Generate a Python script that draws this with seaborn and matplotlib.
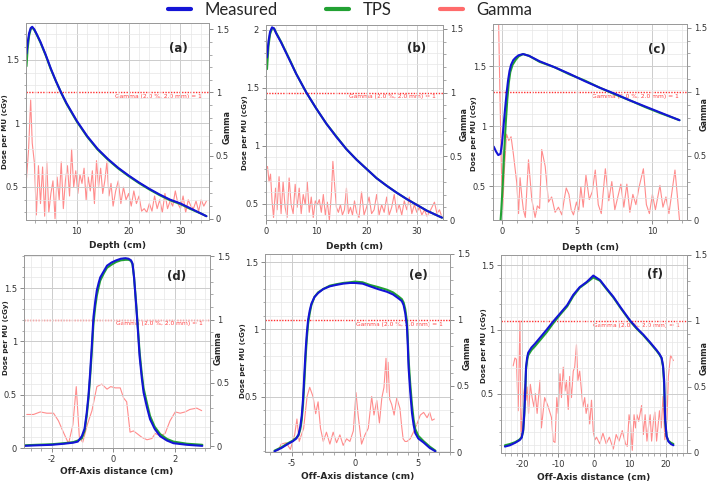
import seaborn as sns
import matplotlib.pyplot as plt
from matplotlib.lines import Line2D
from matplotlib.ticker import MultipleLocator, AutoMinorLocator, FuncFormatter

## (a) depth dose, first field
a_depth = [0.3, 0.5, 0.8, 1.1, 1.4, 1.8, 2.3, 3, 4, 5, 6, 7, 8, 9, 10, 11, 12, 14, 16, 18,
           20, 22, 24, 26, 28, 30, 32, 34, 35]
a_meas = [1.55, 1.63, 1.71, 1.75, 1.76, 1.74, 1.70, 1.64, 1.54, 1.43, 1.33, 1.24, 1.16, 1.09, 1.02,
          0.96, 0.90, 0.80, 0.72, 0.65, 0.59, 0.535, 0.485, 0.44, 0.40, 0.37, 0.33, 0.29, 0.27]
a_tps = [1.45, 1.58, 1.69, 1.74, 1.755, 1.735, 1.695, 1.635, 1.535, 1.425, 1.33, 1.24, 1.155, 1.085, 1.015,
         0.955, 0.895, 0.795, 0.715, 0.645, 0.585, 0.53, 0.48, 0.435, 0.395, 0.365, 0.325, 0.29, 0.27]
a_gx = [0.3, 0.7, 1.1, 1.4, 1.8, 2.2, 2.6, 3.0, 3.4,
        3.8, 4.2, 4.6, 5.0, 5.4, 5.8, 6.2, 6.6, 7.0, 7.4, 7.8, 8.2, 8.6, 9.0, 9.4, 9.8, 10.2, 10.6,
        11.0, 11.4, 11.8, 12.2, 12.6, 13.0, 13.4, 13.8, 14.2, 14.6, 15.0, 15.4, 15.8, 16.2, 16.6, 17.0,
        17.5, 18.0, 18.5, 19.0, 19.5, 20.0, 20.5, 21.0, 21.5, 22.0, 22.5, 23.0, 23.5, 24.0, 24.5, 25.0,
        25.5, 26.0, 26.5, 27.0, 27.5, 28.0, 28.5, 29.0, 29.5, 30.0, 30.5, 31.0, 31.5, 32.0, 32.5, 33.0,
        33.5, 34.0, 34.5, 35.0]
a_gamma = [0.32, 0.55, 0.94, 0.60, 0.45, 0.03, 0.42, 0.12, 0.41,
           0.02, 0.45, 0.05, 0.20, 0.30, 0.00, 0.33, 0.15, 0.45, 0.08, 0.30, 0.42, 0.18, 0.55, 0.25, 0.38,
           0.20, 0.35, 0.28, 0.40, 0.15, 0.33, 0.22, 0.38, 0.12, 0.46, 0.25, 0.40, 0.20, 0.30, 0.45, 0.18,
           0.28, 0.10,
           0.22, 0.30, 0.12, 0.25, 0.15, 0.20, 0.10, 0.22, 0.12, 0.18, 0.06, 0.08, 0.05, 0.12, 0.06, 0.18,
           0.08, 0.15, 0.05, 0.20, 0.08, 0.14, 0.10, 0.22, 0.12, 0.08, 0.18, 0.05, 0.15, 0.10, 0.08, 0.14,
           0.06, 0.15, 0.10, 0.14]

## (b) depth dose, second field
b_depth = [0.2, 0.5, 0.8, 1.2, 1.6, 2, 3, 4, 5, 6, 8, 10, 12, 14, 16, 18, 20, 22, 24, 26, 28, 30, 32, 35]
b_meas = [1.76, 1.90, 1.98, 2.02, 2.01, 1.97, 1.89, 1.80, 1.71, 1.62, 1.46, 1.32, 1.19, 1.075, 0.97,
          0.88, 0.80, 0.72, 0.655, 0.595, 0.54, 0.49, 0.44, 0.38]
b_tps = [1.66, 1.86, 1.96, 2.01, 2.01, 1.975, 1.895, 1.805, 1.715, 1.62, 1.46, 1.32, 1.19, 1.08, 0.97,
         0.88, 0.80, 0.72, 0.655, 0.595, 0.54, 0.49, 0.44, 0.38]
b_gx = [0.3, 0.6, 0.9, 1.2, 1.5, 1.9, 2.2, 2.6, 3.0, 3.4, 3.8, 4.2, 4.6, 5.0, 5.4, 5.8, 6.2, 6.6, 7.0,
        7.4, 7.8, 8.2, 8.6, 9.0, 9.4, 9.8, 10.2, 10.6, 11.0, 11.4, 11.8, 12.2, 12.6, 13.0, 13.3, 13.6,
        14.0, 14.4, 14.8, 15.2, 15.6, 16.0, 16.4, 16.8, 17.2, 17.6, 18.0, 18.5, 19.0, 19.5, 20.0, 20.5,
        21.0, 21.5, 22.0, 22.5, 23.0, 23.5, 24.0, 24.5, 25.0, 25.5, 26.0, 26.5, 27.0, 27.5, 28.0, 28.5,
        29.0, 29.5, 30.0, 30.5, 31.0, 31.5, 32.0, 32.5, 33.0, 33.5, 34.0, 34.5, 35.0]
b_gamma = [0.42, 0.30, 0.36, 0.15, 0.02, 0.25, 0.08, 0.34, 0.05, 0.30, 0.10, 0.02, 0.33, 0.12, 0.05,
           0.28, 0.10, 0.25, 0.05, 0.20, 0.12, 0.30, 0.06, 0.18, 0.02, 0.15, 0.12, 0.16, 0.06, 0.20,
           0.04, 0.14, 0.00, 0.20, 0.46, 0.30, 0.10, 0.06, 0.12, 0.04, 0.08, 0.25, 0.05, 0.10, 0.04,
           0.15, 0.06, 0.02, 0.22, 0.04, 0.10, 0.18, 0.05, 0.08, 0.20, 0.04, 0.12, 0.06, 0.18, 0.04,
           0.10, 0.20, 0.06, 0.12, 0.04, 0.15, 0.08, 0.18, 0.05, 0.12, 0.06, 0.10, 0.04, 0.08, 0.03,
           0.06, 0.10, 0.14, 0.05, 0.08, 0.02]

## (c) depth dose, third field
c_depth = [-0.55, -0.4, -0.25, -0.1, 0.0, 0.1, 0.2, 0.3, 0.4, 0.5, 0.6, 0.75, 0.9, 1.1, 1.4, 1.8, 2.5,
           3.5, 4.5, 5.5, 6.5, 7.5, 8.5, 9.5, 10.5, 11.8]
c_meas = [0.83, 0.79, 0.76, 0.77, 0.86, 1.00, 1.14, 1.27, 1.38, 1.46, 1.51, 1.55, 1.57, 1.59, 1.60,
          1.585, 1.54, 1.49, 1.435, 1.375, 1.32, 1.27, 1.215, 1.165, 1.115, 1.05]
c_tps_depth = [-0.15, -0.05, 0.05, 0.15, 0.25, 0.35, 0.45, 0.55, 0.7, 0.9, 1.1, 1.4, 1.8, 2.5, 3.5,
               4.5, 5.5, 6.5, 7.5, 8.5, 9.5, 10.5, 11.8]
c_tps = [0.12, 0.30, 0.52, 0.80, 1.03, 1.22, 1.36, 1.45, 1.51, 1.55, 1.58, 1.60, 1.585, 1.535, 1.49,
         1.43, 1.38, 1.32, 1.265, 1.215, 1.16, 1.11, 1.05]
c_gx = [-0.25, -0.15, -0.05, 0.03, 0.15, 0.3, 0.45, 0.6, 0.75, 0.98, 1.1, 1.2, 1.32, 1.42, 1.55, 1.76,
        1.98, 2.2, 2.35, 2.5, 2.64, 2.87, 3.09, 3.3, 3.53, 3.75, 3.98, 4.12, 4.27, 4.45, 4.6, 4.75,
        4.95, 5.1, 5.24, 5.4, 5.58, 5.8, 6.0, 6.2, 6.4, 6.6, 6.87, 7.1, 7.3, 7.5, 7.7, 7.9, 8.1, 8.3,
        8.5, 8.7, 8.9, 9.1, 9.4, 9.6, 9.8, 10.0, 10.2, 10.5, 10.7, 10.9, 11.1, 11.3, 11.5, 11.65, 11.8]
c_gamma = [1.70, 1.05, 0.45, 0.04, 0.38, 0.67, 0.62, 0.65, 0.52, 0.29, 0.05, 0.33, 0.18, 0.08, 0.02,
           0.47, 0.16, 0.02, 0.11, 0.09, 0.55, 0.42, 0.14, 0.18, 0.06, 0.10, 0.04, 0.15, 0.25, 0.20,
           0.08, 0.04, 0.14, 0.07, 0.26, 0.10, 0.35, 0.16, 0.22, 0.39, 0.12, 0.05, 0.40, 0.15, 0.30,
           0.08, 0.18, 0.28, 0.10, 0.28, 0.06, 0.20, 0.12, 0.25, 0.40, 0.12, 0.05, 0.20, 0.08, 0.27,
           0.10, 0.18, 0.05, 0.22, 0.39, 0.20, 0.00]

## (d) profile, small field
d_off = [-2.9, -2.5, -2.0, -1.6, -1.3, -1.15, -1.02, -0.93, -0.86, -0.80, -0.75, -0.69, -0.64, -0.58,
         -0.53, -0.47, -0.42, -0.3, -0.2, -0.05, 0.1, 0.25, 0.4, 0.5, 0.58, 0.63, 0.68, 0.75, 0.81,
         0.86, 0.93, 0.99, 1.1, 1.2, 1.35, 1.53, 1.75, 1.96, 2.4, 2.9]
d_meas = [0.02, 0.025, 0.03, 0.04, 0.05, 0.06, 0.11, 0.18, 0.33, 0.50, 0.70, 0.98, 1.23, 1.38, 1.48,
          1.55, 1.60, 1.66, 1.71, 1.74, 1.76, 1.775, 1.78, 1.775, 1.76, 1.73, 1.60, 1.33, 1.08, 0.86,
          0.66, 0.52, 0.38, 0.27, 0.18, 0.11, 0.07, 0.045, 0.03, 0.02]
d_tps = [0.025, 0.03, 0.035, 0.045, 0.055, 0.07, 0.09, 0.16, 0.30, 0.47, 0.66, 0.92, 1.17, 1.33, 1.43,
         1.51, 1.57, 1.64, 1.69, 1.72, 1.745, 1.76, 1.765, 1.765, 1.755, 1.72, 1.60, 1.35, 1.11, 0.90,
         0.70, 0.56, 0.42, 0.30, 0.20, 0.13, 0.085, 0.06, 0.04, 0.03]
d_gx = [-2.81, -2.59, -2.37, -2.16, -1.94, -1.78, -1.62, -1.45, -1.31, -1.2, -1.1, -0.99, -0.84, -0.69,
        -0.53, -0.37, -0.2, -0.08, 0.07, 0.23, 0.34, 0.44, 0.55, 0.66, 0.77, 0.93, 1.1, 1.26, 1.37,
        1.53, 1.69, 1.85, 2.02, 2.18, 2.34, 2.5, 2.72, 2.88]
d_gamma = [0.25, 0.25, 0.27, 0.26, 0.26, 0.20, 0.11, 0.02, 0.17, 0.47, 0.07, 0.03, 0.17, 0.28, 0.47,
           0.49, 0.45, 0.47, 0.46, 0.46, 0.38, 0.35, 0.11, 0.12, 0.10, 0.07, 0.05, 0.06, 0.10, 0.08,
           0.10, 0.20, 0.27, 0.26, 0.27, 0.29, 0.30, 0.28]

## (e) profile, medium field
e_off = [-6.35, -5.8, -5.29, -4.9, -4.63, -4.45, -4.31, -4.2, -4.1, -4.0, -3.89, -3.8, -3.7, -3.57,
         -3.44, -3.2, -2.91, -2.5, -1.98, -1.5, -0.93, -0.4, 0.0, 0.6, 1.19, 1.8, 2.51, 3.0, 3.44, 3.7,
         3.84, 3.97, 4.1, 4.17, 4.23, 4.36, 4.5, 4.63, 4.76, 5.0, 5.42, 5.9, 6.35]
e_meas = [0.095, 0.12, 0.15, 0.17, 0.19, 0.22, 0.28, 0.36, 0.48, 0.66, 0.85, 0.97, 1.07, 1.14, 1.19,
          1.24, 1.27, 1.30, 1.32, 1.33, 1.34, 1.345, 1.345, 1.34, 1.32, 1.30, 1.28, 1.26, 1.23, 1.21,
          1.18, 1.12, 1.02, 0.88, 0.72, 0.54, 0.38, 0.29, 0.23, 0.19, 0.16, 0.12, 0.095]
e_tps = [0.10, 0.125, 0.155, 0.175, 0.195, 0.215, 0.26, 0.33, 0.44, 0.60, 0.80, 0.93, 1.04, 1.12, 1.18,
         1.24, 1.275, 1.30, 1.325, 1.335, 1.345, 1.35, 1.355, 1.35, 1.33, 1.315, 1.295, 1.275, 1.245,
         1.225, 1.20, 1.15, 1.06, 0.93, 0.78, 0.60, 0.44, 0.33, 0.26, 0.21, 0.17, 0.13, 0.10]
e_gx = [-6.08, -5.82, -5.42, -5.1, -4.76, -4.58, -4.4, -4.05, -3.78, -3.57, -3.31, -3.1, -2.91, -2.72,
        -2.5, -2.25, -1.98, -1.72, -1.45, -1.19, -0.93, -0.66, -0.4, -0.13, 0.08, 0.26, 0.52, 0.79,
        1.05, 1.32, 1.5, 1.72, 1.93, 2.12, 2.29, 2.45, 2.53, 2.61, 2.74, 2.9, 3.09, 3.3, 3.55, 3.68,
        3.8, 3.95, 4.1, 4.36, 4.76, 5.16, 5.42, 5.69, 5.9, 6.08, 6.27]
e_gamma = [0.01, 0.06, 0.07, 0.02, 0.13, 0.25, 0.08, 0.18, 0.42, 0.49, 0.42, 0.29, 0.38, 0.18, 0.08,
           0.15, 0.06, 0.15, 0.07, 0.13, 0.05, 0.10, 0.08, 0.16, 0.45, 0.27, 0.06, 0.13, 0.18, 0.42,
           0.28, 0.39, 0.22, 0.41, 0.49, 0.71, 0.45, 0.68, 0.40, 0.36, 0.28, 0.41, 0.33, 0.20, 0.10,
           0.08, 0.08, 0.10, 0.18, 0.28, 0.30, 0.26, 0.30, 0.24, 0.25]

## (f) profile, large field
f_off = [-24.9, -23.5, -22.0, -20.8, -20.2, -19.8, -19.5, -19.2, -19.0, -18.7, -18.4, -17.5, -16.5,
         -15.0, -13.2, -11.5, -9.5, -7.5, -5.8, -4.0, -2.05, -0.2, 1.68, 3.5, 5.4, 7.5, 10.1, 12.0, 13.8,
         15.7, 17.5, 18.3, 18.9, 19.3, 19.6, 19.9, 20.3, 20.8, 21.5, 22.2]
f_meas = [0.09, 0.10, 0.12, 0.14, 0.16, 0.22, 0.35, 0.55, 0.71, 0.78, 0.82, 0.86, 0.89, 0.94, 1.0,
          1.06, 1.125, 1.19, 1.27, 1.33, 1.37, 1.42, 1.385, 1.32, 1.255, 1.17, 1.07, 1.01, 0.96, 0.90,
          0.84, 0.81, 0.78, 0.72, 0.61, 0.30, 0.17, 0.13, 0.11, 0.10]
f_tps = [0.10, 0.11, 0.125, 0.145, 0.165, 0.21, 0.33, 0.52, 0.69, 0.76, 0.80, 0.84, 0.87, 0.92, 0.98,
         1.045, 1.115, 1.18, 1.26, 1.325, 1.365, 1.405, 1.38, 1.315, 1.25, 1.165, 1.065, 1.005, 0.955,
         0.895, 0.835, 0.805, 0.775, 0.71, 0.58, 0.28, 0.17, 0.135, 0.12, 0.11]
f_gx = [-22.6, -22.1, -21.7, -21.2, -20.7, -20.4, -19.9, -19.3, -19.0, -18.7, -18.3, -17.8, -17.3,
        -16.8, -16.4, -15.9, -15.1, -14.7, -13.8, -12.8, -11.9, -11.4, -10.9, -10.4, -10.0, -9.5, -9.1,
        -8.6, -8.1, -7.7, -7.2, -6.8, -6.3, -5.8, -5.4, -4.9, -4.5, -4.0, -3.5, -3.1, -2.6, -2.2, -1.7,
        -1.2, -0.7, -0.2, 0.3, 0.7, 1.6, 2.5, 3.4, 4.3, 5.4, 6.2, 7.0, 7.9, 8.8, 9.3, 9.8, 10.2, 10.7,
        11.2, 11.6, 12.0, 12.5, 13.3, 13.8, 14.3, 14.8, 15.2, 15.7, 16.1, 16.6, 17.0, 17.5, 18.3, 18.8,
        19.3, 19.8, 20.4, 20.8, 21.4, 22.2]
f_gamma = [0.66, 0.72, 0.71, 0.32, 1.00, 0.11, 0.40, 0.52, 0.40, 0.50, 0.30, 0.52, 0.42, 0.35, 0.45,
           0.30, 0.55, 0.19, 0.42, 0.35, 0.27, 0.09, 0.08, 0.42, 0.30, 0.60, 0.42, 0.65, 0.47, 0.55,
           0.33, 0.58, 0.42, 0.62, 0.65, 0.82, 0.55, 0.62, 0.47, 0.35, 0.42, 0.30, 0.37, 0.22, 0.40,
           0.16, 0.10, 0.12, 0.07, 0.15, 0.07, 0.12, 0.03, 0.14, 0.09, 0.17, 0.07, 0.05, 0.29, 0.22,
           0.02, 0.29, 0.19, 0.29, 0.24, 0.36, 0.14, 0.29, 0.09, 0.19, 0.29, 0.09, 0.24, 0.31, 0.09,
           0.32, 0.19, 0.43, 0.10, 0.25, 0.58, 0.74, 0.70]

sns.set_style("white")
plt.rcParams['font.family'] = ['DejaVu Sans']

BLUE = '#1414d6'
GREEN = '#22a133'
RED = '#ff8c8c'
W, H = 709, 483

fig = plt.figure(figsize=(7.09, 4.83), dpi=100)
fmt = FuncFormatter(lambda v, _: f"{v:g}")


def px_rect(l, r, t, b):
    return [l / W, 1 - b / H, (r - l) / W, (b - t) / H]


def panel(rect, meas, tps, gam, xlim, ylim, glim, xmaj, xsub, letter, lpos, xlabel, xly, ylpos, glpos):
    ax = fig.add_axes(rect)
    ax2 = ax.twinx()
    ax.set_zorder(ax2.get_zorder() + 1)
    ax.patch.set_visible(False)

    # gamma index on the right axis
    sns.lineplot(x=gam[0], y=gam[1], ax=ax2, color=RED, linewidth=0.8, sort=False, estimator=None)
    ax2.axhline(1, color='#ff3030', linestyle=(0, (1, 1)), linewidth=1.0)
    ax2.text(xlim[1] - 0.04 * (xlim[1] - xlim[0]), 0.985, 'Gamma (2.0 %, 2.0 mm) = 1',
             ha='right', va='top', fontsize=4.3, color='#ff4040')
    ax2.set_ylim(glim)
    ax2.yaxis.set_major_locator(MultipleLocator(0.5))
    ax2.yaxis.set_minor_locator(MultipleLocator(0.1))
    ax2.yaxis.set_major_formatter(fmt)
    ax2.set_ylabel('Gamma', fontsize=5.8, fontweight='bold')
    ax2.yaxis.set_label_coords(*glpos)

    # dose curves
    sns.lineplot(x=tps[0], y=tps[1], ax=ax, color=GREEN, linewidth=1.5, sort=False, estimator=None)
    sns.lineplot(x=meas[0], y=meas[1], ax=ax, color=BLUE, linewidth=1.5, sort=False, estimator=None)
    ax.set_xlim(xlim)
    ax.set_ylim(ylim)
    ax.xaxis.set_major_locator(MultipleLocator(xmaj))
    ax.xaxis.set_minor_locator(AutoMinorLocator(xsub))
    ax.yaxis.set_major_locator(MultipleLocator(0.5))
    ax.yaxis.set_minor_locator(MultipleLocator(0.1))
    ax.xaxis.set_major_formatter(fmt)
    ax.yaxis.set_major_formatter(fmt)
    ax.grid(which='major', color='#cccccc', linewidth=0.7)
    ax.grid(which='minor', color='#e6e6e6', linewidth=0.5)

    ax.set_xlabel(xlabel, fontsize=6.5, fontweight='bold')
    ax.xaxis.set_label_coords(0.5, xly)
    ax.set_ylabel('Dose per MU (cGy)', fontsize=5.1, fontweight='bold')
    ax.yaxis.set_label_coords(*ylpos)
    ax.text(lpos[0], lpos[1], letter, transform=ax.transAxes, fontsize=8.5,
            fontweight='bold', ha='center', va='center')

    for a in (ax, ax2):
        a.tick_params(which='major', labelsize=6, length=3, width=0.6,
                      color='#777777', labelcolor='#333333', pad=2)
        a.tick_params(which='minor', length=1.8, width=0.5, color='#888888')
        for sp in a.spines.values():
            sp.set_color('#9a9a9a')
            sp.set_linewidth(0.7)
    ax.tick_params(axis='x', which='both', bottom=True)
    ax.tick_params(axis='y', which='both', left=True)
    ax2.tick_params(axis='y', which='both', right=True)
    return ax


panel(px_rect(26, 209, 23, 220), (a_depth, a_meas), (a_depth, a_tps), (a_gx, a_gamma),
      (0.2, 35.5), (0.24, 1.79), (-0.01, 1.55), 10, 5, '(a)', (0.83, 0.87),
      'Depth (cm)', -0.105, (-0.096, 0.45), (1.074, 0.47))
panel(px_rect(266, 443, 25, 220), (b_depth, b_meas), (b_depth, b_tps), (b_gx, b_gamma),
      (0.0, 35.2), (0.36, 2.04), (0.0, 1.53), 10, 5, '(b)', (0.85, 0.88),
      'Depth (cm)', -0.115, (-0.099, 0.45), (1.093, 0.49))
panel(px_rect(493, 687, 24, 220), (c_depth, c_meas), (c_tps_depth, c_tps), (c_gx, c_gamma),
      (-0.6, 12.3), (0.22, 1.85), (0.0, 1.53), 5, 5, '(c)', (0.845, 0.87),
      'Depth (cm)', -0.115, (-0.085, 0.44), (1.064, 0.54))
panel(px_rect(24, 210, 255, 448), (d_off, d_meas), (d_off, d_tps), (d_gx, d_gamma),
      (-2.9, 3.15), (0.0, 1.81), (-0.015, 1.51), 2, 6, '(d)', (0.82, 0.89),
      'Off-Axis distance (cm)', -0.10, (-0.083, 0.57), (1.019, 0.52))
panel(px_rect(265, 450, 254, 452), (e_off, e_meas), (e_off, e_tps), (e_gx, e_gamma),
      (-7.1, 7.5), (0.09, 1.56), (0.0, 1.50), 5, 6, '(e)', (0.83, 0.89),
      'Off-Axis distance (cm)', -0.10, (-0.103, 0.46), (1.07, 0.5))
panel(px_rect(501, 687, 255, 453), (f_off, f_meas), (f_off, f_tps), (f_gx, f_gamma),
      (-26, 26), (0.04, 1.58), (0.0, 1.50), 10, 6, '(f)', (0.83, 0.9),
      'Off-Axis distance (cm)', -0.10, (-0.073, 0.54), (1.07, 0.48))

handles = [Line2D([], [], color=BLUE, linewidth=3),
           Line2D([], [], color=GREEN, linewidth=3),
           Line2D([], [], color='#ff6b6b', linewidth=3)]
fig.legend(handles, ['Measured', 'TPS', 'Gamma'], loc='center', bbox_to_anchor=(0.494, 0.979),
           ncol=3, frameon=False, prop={'family': 'Lato', 'size': 12},
           handlelength=1.4, handletextpad=0.8, columnspacing=2.9)

plt.savefig("out.png", dpi=100)
